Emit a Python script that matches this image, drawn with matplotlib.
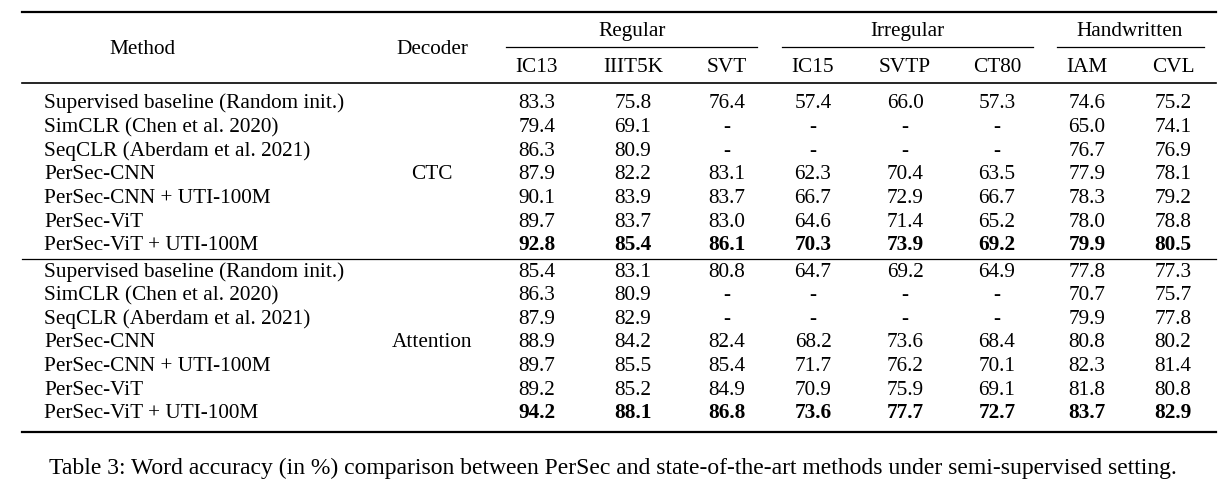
import matplotlib.pyplot as plt

methods = ["Supervised baseline (Random init.)", "SimCLR (Chen et al. 2020)",
           "SeqCLR (Aberdam et al. 2021)", "PerSec-CNN", "PerSec-CNN + UTI-100M",
           "PerSec-ViT", "PerSec-ViT + UTI-100M"]
decoders = ["CTC", "Attention"]
groups = ["Regular", "Irregular", "Handwritten"]
datasets = ["IC13", "IIIT5K", "SVT", "IC15", "SVTP", "CT80", "IAM", "CVL"]

ctc_vals = [
    ["83.3", "75.8", "76.4", "57.4", "66.0", "57.3", "74.6", "75.2"],
    ["79.4", "69.1", "-", "-", "-", "-", "65.0", "74.1"],
    ["86.3", "80.9", "-", "-", "-", "-", "76.7", "76.9"],
    ["87.9", "82.2", "83.1", "62.3", "70.4", "63.5", "77.9", "78.1"],
    ["90.1", "83.9", "83.7", "66.7", "72.9", "66.7", "78.3", "79.2"],
    ["89.7", "83.7", "83.0", "64.6", "71.4", "65.2", "78.0", "78.8"],
    ["92.8", "85.4", "86.1", "70.3", "73.9", "69.2", "79.9", "80.5"],
]
att_vals = [
    ["85.4", "83.1", "80.8", "64.7", "69.2", "64.9", "77.8", "77.3"],
    ["86.3", "80.9", "-", "-", "-", "-", "70.7", "75.7"],
    ["87.9", "82.9", "-", "-", "-", "-", "79.9", "77.8"],
    ["88.9", "84.2", "82.4", "68.2", "73.6", "68.4", "80.8", "80.2"],
    ["89.7", "85.5", "85.4", "71.7", "76.2", "70.1", "82.3", "81.4"],
    ["89.2", "85.2", "84.9", "70.9", "75.9", "69.1", "81.8", "80.8"],
    ["94.2", "88.1", "86.8", "73.6", "77.7", "72.7", "83.7", "82.9"],
]
caption = ("Table 3: Word accuracy (in %) comparison between PerSec and "
           "state-of-the-art methods under semi-supervised setting.")

plt.rcParams['font.family'] = ['Liberation Serif', 'DejaVu Serif']
W, H = 1231, 488
fig = plt.figure(figsize=(W / 100, H / 100), dpi=100)
ax = fig.add_axes([0, 0, 1, 1])
ax.set_xlim(0, W)
ax.set_ylim(H, 0)
ax.axis('off')

fs = 15.3
off = 7  # half cap height in px, so text sits on a baseline
col_x = [537, 633, 727, 813, 905, 997, 1087, 1173]
group_x = [632, 907, 1130]
group_span = [(506, 757), (782, 1033), (1057, 1204)]


def put(x, y, s, ha='center', **kw):
    ax.text(x, y + off, s, fontsize=fs, ha=ha, va='baseline', **kw)


# rules
ax.plot([22, 1216], [12, 12], color='black', lw=1.6)
ax.plot([22, 1216], [83, 83], color='black', lw=1.2)
ax.plot([22, 1216], [259, 259], color='black', lw=0.9)
ax.plot([22, 1216], [432, 432], color='black', lw=1.6)
for (a, b) in group_span:
    ax.plot([a, b], [47, 47], color='black', lw=0.9)

# header
put(142, 47, "Method")
put(432, 47, "Decoder")
for g, x in zip(groups, group_x):
    put(x, 29, g)
for d, x in zip(datasets, col_x):
    put(x, 65, d)

row_y = [[101, 125, 149, 172, 196, 220, 243],
         [270, 293, 317, 340, 364, 388, 411]]
for gi, vals in enumerate([ctc_vals, att_vals]):
    ys = row_y[gi]
    put(432, ys[3], decoders[gi])
    for ri, (m, row) in enumerate(zip(methods, vals)):
        bold = ri == len(methods) - 1
        put(44, ys[ri], m, ha='left')
        for x, v in zip(col_x, row):
            put(x, ys[ri], v, fontweight='bold' if bold else 'normal')

ax.text(49, 474, caption, fontsize=17, ha='left', va='baseline')

fig.savefig("out.png", dpi=100)
